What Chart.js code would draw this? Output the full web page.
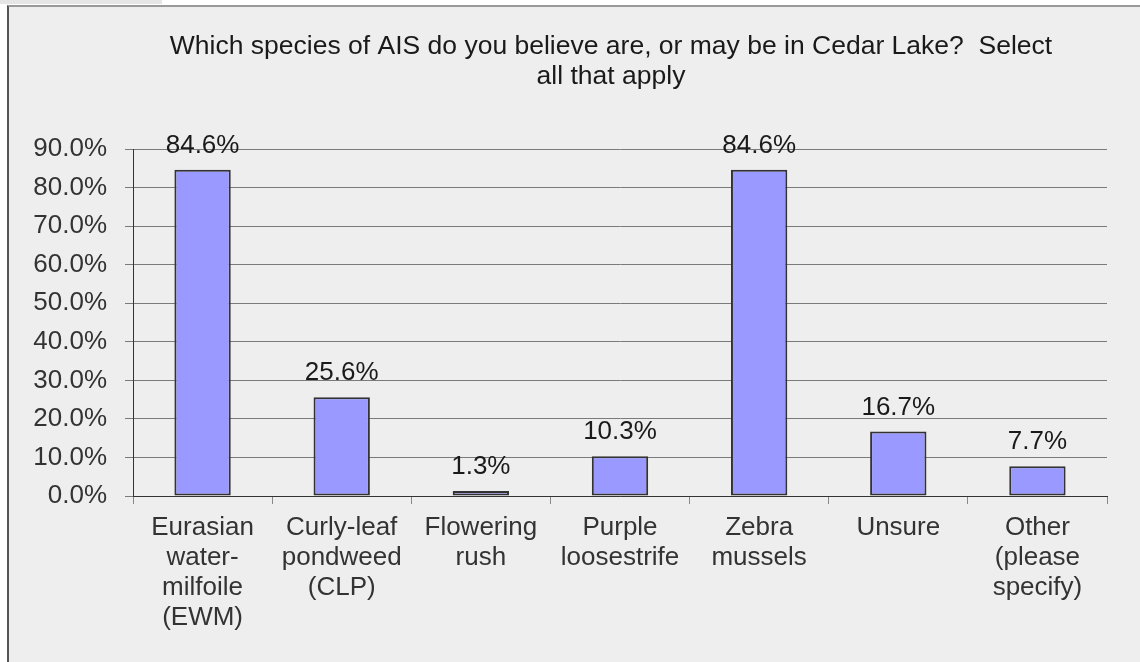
<!DOCTYPE html>
<html>
<head>
<meta charset="utf-8">
<script src="https://cdn.jsdelivr.net/npm/chart.js@4/dist/chart.umd.min.js"></script>
<style>
  html, body { margin: 0; padding: 0; background: #fff; overflow: hidden; }
  #tab { position: absolute; left: 0; top: 0; width: 162px; height: 4px; background: #e6e6e6; }
  #frame {
    position: absolute; left: 7px; top: 5px; width: 1140px; height: 662px;
    background: #eeeeee; border-left: 2px solid #555; border-top: 2px solid #999;
  }
  #chartBox { position: absolute; left: 0; top: 0; width: 1131px; height: 655px; }
</style>
</head>
<body>
<div id="tab"></div>
<div id="frame">
  <div id="chartBox"><canvas id="aisChart"></canvas></div>
</div>
<script>
// survey answers, percent of respondents
var categories = [
  ['Eurasian', 'water-', 'milfoile', '(EWM)'],
  ['Curly-leaf', 'pondweed', '(CLP)'],
  ['Flowering', 'rush'],
  ['Purple', 'loosestrife'],
  ['Zebra', 'mussels'],
  ['Unsure'],
  ['Other', '(please', 'specify)']
];
var percents = [84.6, 25.6, 1.3, 10.3, 84.6, 16.7, 7.7];
var titleLines = ['Which species of AIS do you believe are, or may be in Cedar Lake?  Select', 'all that apply'];
var yMax = 90;
var yStep = 10;

var FONT = "'Liberation Sans', Arial, sans-serif";

// value labels above each bar
var barLabels = {
  id: 'barLabels',
  afterDatasetsDraw: function(chart) {
    var ctx = chart.ctx;
    var meta = chart.getDatasetMeta(0);
    ctx.save();
    ctx.font = '26px ' + FONT;
    ctx.fillStyle = '#1a1a1a';
    ctx.textAlign = 'center';
    ctx.textBaseline = 'alphabetic';
    meta.data.forEach(function(bar, i) {
      ctx.fillText(percents[i].toFixed(1) + '%', bar.x, bar.y - 17);
    });
    ctx.restore();
  }
};

// centre the title over the plot area rather than the whole canvas
var titleShift = {
  id: 'titleShift',
  afterLayout: function(chart) {
    var t = chart.titleBlock;
    if (!t) return;
    var mid = (chart.chartArea.left + chart.chartArea.right) / 2 - 9;
    var half = (t.right - t.left) / 2;
    t.left = mid - half;
    t.right = mid + half;
  }
};

var canvas = document.getElementById('aisChart').getContext('2d');
var aisChart = new Chart(canvas, {
  type: 'bar',
  data: {
    labels: categories,
    datasets: [{
      data: percents,
      backgroundColor: '#9999ff',
      borderColor: '#333',
      borderWidth: 2,
      borderSkipped: false,
      barPercentage: 0.405,
      categoryPercentage: 1
    }]
  },
  options: {
    responsive: true,
    maintainAspectRatio: false,
    animation: false,
    layout: { padding: { top: 0, left: 0, right: 33, bottom: 0 } },
    plugins: {
      legend: { display: false },
      tooltip: { enabled: false },
      title: {
        display: true,
        text: titleLines,
        color: '#1a1a1a',
        font: { family: FONT, size: 26.5, weight: 'normal', lineHeight: '30px' },
        padding: { top: 25, bottom: 57 }
      }
    },
    scales: {
      x: {
        grid: { drawOnChartArea: false, drawTicks: true, tickLength: 8, color: '#888', offset: true },
        border: { display: true, color: '#333', width: 1 },
        ticks: {
          color: '#333',
          padding: 9,
          maxRotation: 0,
          autoSkip: false,
          font: { family: FONT, size: 26, lineHeight: '30px' }
        },
        afterFit: function(scale) { scale.height = 166; }
      },
      y: {
        min: 0,
        max: yMax,
        grid: { color: '#7a7a7a', lineWidth: 1, tickLength: 8, drawTicks: true },
        border: { display: true, color: '#333', width: 1 },
        ticks: {
          stepSize: yStep,
          color: '#333',
          padding: 18,
          font: { family: FONT, size: 26 },
          callback: function(v) { return v.toFixed(1) + '%'; }
        },
        afterFit: function(scale) { scale.width = 124; }
      }
    }
  },
  plugins: [barLabels, titleShift]
});
</script>
</body>
</html>
